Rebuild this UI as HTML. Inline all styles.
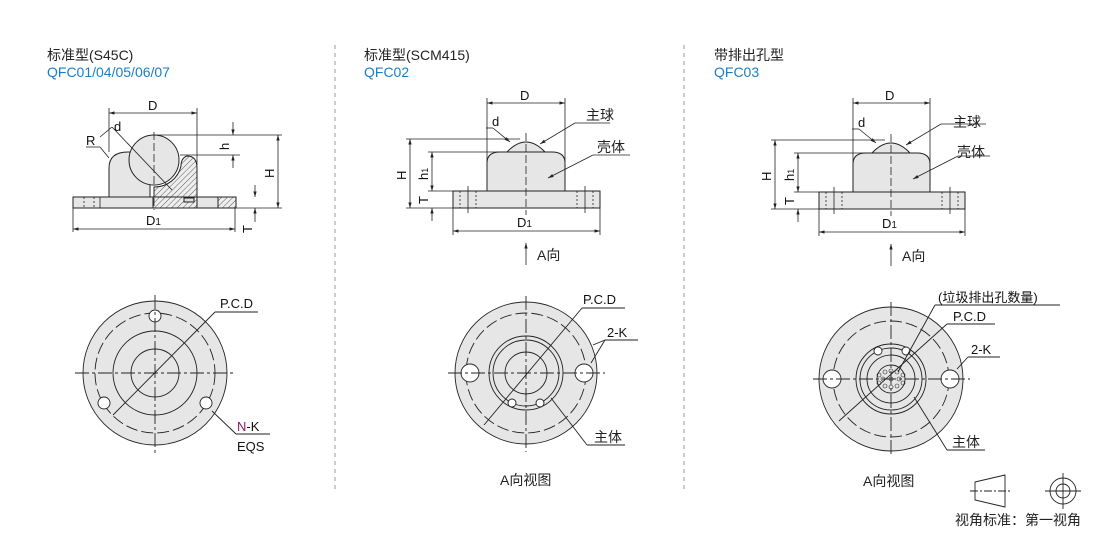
<!DOCTYPE html>
<html><head><meta charset="utf-8"><style>
body{margin:0;background:#fff;}
svg{display:block;font-family:"Liberation Sans","Noto Sans CJK SC",sans-serif;}
.t{font-size:14px;fill:#222;}
.b{font-size:14px;fill:#1a7fc4;}
.l{font-size:13px;fill:#111;}
</style></head><body>
<svg width="1110" height="537" viewBox="0 0 1110 537" xmlns="http://www.w3.org/2000/svg">
<defs>
<marker id="a" viewBox="0 0 10 10" refX="10" refY="5" markerWidth="7" markerHeight="7" orient="auto-start-reverse"><path d="M0,2 L10,5 L0,8z" fill="#222"/></marker>
<pattern id="h" width="4" height="4" patternUnits="userSpaceOnUse" patternTransform="rotate(45)"><rect width="4" height="4" fill="#eee"/><line x1="0" y1="0" x2="0" y2="4" stroke="#333" stroke-width="0.8"/></pattern>
</defs>
<g stroke="#999" stroke-dasharray="4,4" stroke-width="1"><line x1="335" y1="45" x2="335" y2="490"/><line x1="684" y1="45" x2="684" y2="490"/></g>

<text x="47" y="60" class="t">标准型(S45C)</text>
<text x="47" y="77" class="b">QFC01/04/05/06/07</text>
<text x="364" y="60" class="t">标准型(SCM415)</text>
<text x="364" y="77" class="b">QFC02</text>
<text x="714" y="60" class="t">带排出孔型</text>
<text x="714" y="77" class="b">QFC03</text>

<!-- Panel 1 side -->
<g stroke="#222" stroke-width="1" fill="#e6e6e6">
<rect x="73" y="197" width="163" height="11"/>
<path d="M109,197 V168 Q109,152 128,152 H150 V197z"/>
<circle cx="154" cy="160" r="25"/>
<path d="M154,197 H197 V168 Q197,156 187,156 Q181,158 181,166 A27,27 0 0 1 154,187z" fill="url(#h)"/>
<rect x="153" y="197" width="44" height="11" fill="url(#h)"/>
<rect x="218" y="197" width="18" height="11" fill="url(#h)"/>
<rect x="184" y="198" width="10" height="4" fill="#ddd"/>
</g>
<g stroke="#222" stroke-width="0.8" fill="none">
<line x1="84" y1="197" x2="84" y2="208" stroke-dasharray="2,2"/><line x1="94" y1="197" x2="94" y2="208" stroke-dasharray="2,2"/><line x1="100" y1="197" x2="100" y2="208"/>
<line x1="109" y1="113" x2="197" y2="113" marker-start="url(#a)" marker-end="url(#a)"/>
<line x1="109" y1="108" x2="109" y2="152"/><line x1="197" y1="108" x2="197" y2="165"/>
<line x1="155" y1="135" x2="282" y2="135"/><line x1="180" y1="155" x2="240" y2="155"/>
<line x1="233" y1="122" x2="233" y2="135" marker-end="url(#a)"/><line x1="233" y1="168" x2="233" y2="155" marker-end="url(#a)"/>
<line x1="278" y1="135" x2="278" y2="208" marker-start="url(#a)" marker-end="url(#a)"/>
<line x1="236" y1="208" x2="282" y2="208"/>
<line x1="255" y1="185" x2="255" y2="197" marker-end="url(#a)"/><line x1="255" y1="222" x2="255" y2="208" marker-end="url(#a)"/>
<line x1="73" y1="229" x2="235" y2="229" marker-start="url(#a)" marker-end="url(#a)"/>
<line x1="73" y1="208" x2="73" y2="232"/><line x1="235" y1="208" x2="235" y2="232"/>
<line x1="154" y1="132" x2="154" y2="210" stroke-dasharray="8,3"/>
<line x1="112" y1="127" x2="172" y2="190"/><line x1="100" y1="137" x2="112" y2="127"/>
<line x1="86" y1="147" x2="100" y2="147"/><line x1="100" y1="147" x2="109" y2="158"/>
</g>
<text x="148" y="110" class="l">D</text><text x="114" y="131" class="l">d</text><text x="86" y="145" class="l">R</text>
<text x="229" y="150" class="l" transform="rotate(-90 229 150)">h</text>
<text x="274" y="178" class="l" transform="rotate(-90 274 178)">H</text>
<text x="252" y="233" class="l" transform="rotate(-90 252 233)">T</text>
<text x="146" y="225" class="l">D<tspan font-size="10">1</tspan></text>

<!-- Panel 1 bottom -->
<g stroke="#222" stroke-width="0.9">
<circle cx="155" cy="373" r="72" fill="#e6e6e6"/>
<circle cx="155" cy="373" r="60" fill="none" stroke-dasharray="12,4"/>
<circle cx="155" cy="373" r="42" fill="none"/>
<circle cx="155" cy="373" r="24" fill="none"/>
<circle cx="155" cy="316" r="6" fill="#fff"/><circle cx="104" cy="403" r="6" fill="#fff"/><circle cx="206" cy="403" r="6" fill="#fff"/>
<line x1="75" y1="373" x2="235" y2="373" stroke-dasharray="14,3,3,3"/>
<line x1="155" y1="295" x2="155" y2="455" stroke-dasharray="14,3,3,3"/>
<line x1="113" y1="415" x2="215" y2="312" fill="none"/>
<line x1="215" y1="312" x2="258" y2="312"/>
<line x1="212" y1="411" x2="236" y2="434"/><line x1="236" y1="434" x2="270" y2="434"/>
</g>
<text x="220" y="308" class="l">P.C.D</text>
<text x="237" y="431" class="l"><tspan fill="#8a1a6a">N</tspan>-K</text>
<text x="237" y="451" class="l">EQS</text>

<!-- Panel 2 side -->
<g stroke="#222" stroke-width="1" fill="#e6e6e6">
<path d="M507,152 Q526,132 545,152z"/>
<path d="M487,191 V163 Q487,152 500,152 H552 Q565,152 565,163 V191z"/>
<rect x="453" y="191" width="147" height="17"/>
</g>
<g stroke="#222" stroke-width="0.8" fill="none">
<line x1="460" y1="191" x2="460" y2="208" stroke-dasharray="2,2"/><line x1="476" y1="191" x2="476" y2="208" stroke-dasharray="2,2"/><line x1="468" y1="186" x2="468" y2="213"/>
<line x1="577" y1="191" x2="577" y2="208" stroke-dasharray="2,2"/><line x1="593" y1="191" x2="593" y2="208" stroke-dasharray="2,2"/><line x1="585" y1="186" x2="585" y2="213"/>
<line x1="487" y1="103" x2="565" y2="103" marker-start="url(#a)" marker-end="url(#a)"/>
<line x1="487" y1="98" x2="487" y2="191"/><line x1="565" y1="98" x2="565" y2="191"/>
<line x1="406" y1="139" x2="520" y2="139"/><line x1="428" y1="152" x2="500" y2="152"/>
<line x1="406" y1="208" x2="453" y2="208"/><line x1="428" y1="191" x2="453" y2="191"/>
<line x1="410" y1="139" x2="410" y2="208" marker-start="url(#a)" marker-end="url(#a)"/>
<line x1="432" y1="152" x2="432" y2="191" marker-start="url(#a)" marker-end="url(#a)"/>
<line x1="432" y1="221" x2="432" y2="208" marker-end="url(#a)"/>
<line x1="453" y1="231" x2="600" y2="231" marker-start="url(#a)" marker-end="url(#a)"/>
<line x1="453" y1="208" x2="453" y2="235"/><line x1="600" y1="208" x2="600" y2="235"/>
<line x1="526" y1="133" x2="526" y2="215" stroke-dasharray="8,3"/>
<line x1="493" y1="128" x2="510" y2="142" marker-end="url(#a)"/><line x1="486" y1="128" x2="493" y2="128"/>
<line x1="575" y1="123" x2="540" y2="144" marker-end="url(#a)"/><line x1="575" y1="123" x2="610" y2="123"/>
<line x1="593" y1="155" x2="548" y2="178" marker-end="url(#a)"/><line x1="593" y1="155" x2="630" y2="155"/>
<line x1="526" y1="265" x2="526" y2="243" marker-end="url(#a)"/>
</g>
<text x="520" y="100" class="l">D</text><text x="492" y="126" class="l">d</text>
<text x="586" y="120" class="t">主球</text><text x="597" y="152" class="t">壳体</text>
<text x="406" y="180" class="l" transform="rotate(-90 406 180)">H</text>
<text x="428" y="180" class="l" transform="rotate(-90 428 180)">h<tspan font-size="9">1</tspan></text>
<text x="428" y="204" class="l" transform="rotate(-90 428 204)">T</text>
<text x="517" y="227" class="l">D<tspan font-size="10">1</tspan></text>
<text x="537" y="260" class="t">A向</text>

<!-- Panel 2 bottom -->
<g stroke="#222" stroke-width="0.9">
<circle cx="526" cy="373" r="71" fill="#e6e6e6"/>
<circle cx="526" cy="373" r="60" fill="none" stroke-dasharray="12,4"/>
<circle cx="526" cy="373" r="37" fill="none"/>
<circle cx="526" cy="373" r="33" fill="none"/>
<circle cx="526" cy="373" r="21" fill="none"/>
<circle cx="470" cy="373" r="9" fill="#fff"/><circle cx="584" cy="373" r="9" fill="#fff"/>
<circle cx="512" cy="403" r="4" fill="#fff"/><circle cx="540" cy="403" r="4" fill="#fff"/>
<line x1="448" y1="373" x2="605" y2="373" stroke-dasharray="14,3,3,3"/>
<line x1="526" y1="296" x2="526" y2="452" stroke-dasharray="14,3,3,3"/>
<line x1="484" y1="425" x2="582" y2="308"/><line x1="582" y1="308" x2="625" y2="308"/>
<line x1="593" y1="345" x2="605" y2="340"/><line x1="605" y1="340" x2="638" y2="340"/><line x1="605" y1="340" x2="591" y2="363"/>
<line x1="551" y1="398" x2="587" y2="445"/><line x1="587" y1="445" x2="625" y2="445"/>
</g>
<text x="583" y="304" class="l">P.C.D</text><text x="607" y="337" class="l">2-K</text>
<text x="594" y="442" class="t">主体</text>
<text x="500" y="485" class="t">A向视图</text>

<!-- Panel 3 side -->
<g stroke="#222" stroke-width="1" fill="#e6e6e6">
<path d="M872,153 Q891,133 910,153z"/>
<path d="M853,192 V164 Q853,153 866,153 H917 Q930,153 930,164 V192z"/>
<rect x="819" y="192" width="146" height="17"/>
</g>
<g stroke="#222" stroke-width="0.8" fill="none">
<line x1="826" y1="192" x2="826" y2="209" stroke-dasharray="2,2"/><line x1="842" y1="192" x2="842" y2="209" stroke-dasharray="2,2"/><line x1="834" y1="187" x2="834" y2="214"/>
<line x1="942" y1="192" x2="942" y2="209" stroke-dasharray="2,2"/><line x1="958" y1="192" x2="958" y2="209" stroke-dasharray="2,2"/><line x1="950" y1="187" x2="950" y2="214"/>
<line x1="853" y1="103" x2="930" y2="103" marker-start="url(#a)" marker-end="url(#a)"/>
<line x1="853" y1="98" x2="853" y2="192"/><line x1="930" y1="98" x2="930" y2="192"/>
<line x1="771" y1="140" x2="885" y2="140"/><line x1="794" y1="153" x2="866" y2="153"/>
<line x1="771" y1="209" x2="819" y2="209"/><line x1="794" y1="192" x2="819" y2="192"/>
<line x1="775" y1="140" x2="775" y2="209" marker-start="url(#a)" marker-end="url(#a)"/>
<line x1="798" y1="153" x2="798" y2="192" marker-start="url(#a)" marker-end="url(#a)"/>
<line x1="798" y1="222" x2="798" y2="209" marker-end="url(#a)"/>
<line x1="819" y1="232" x2="965" y2="232" marker-start="url(#a)" marker-end="url(#a)"/>
<line x1="819" y1="209" x2="819" y2="236"/><line x1="965" y1="209" x2="965" y2="236"/>
<line x1="891" y1="134" x2="891" y2="216" stroke-dasharray="8,3"/>
<line x1="859" y1="129" x2="876" y2="143" marker-end="url(#a)"/><line x1="852" y1="129" x2="859" y2="129"/>
<line x1="941" y1="124" x2="906" y2="145" marker-end="url(#a)"/><line x1="941" y1="124" x2="986" y2="124"/>
<line x1="958" y1="156" x2="913" y2="179" marker-end="url(#a)"/><line x1="958" y1="156" x2="990" y2="156"/>
<line x1="891" y1="266" x2="891" y2="244" marker-end="url(#a)"/>
</g>
<text x="885" y="100" class="l">D</text><text x="858" y="127" class="l">d</text>
<text x="953" y="127" class="t">主球</text><text x="957" y="157" class="t">壳体</text>
<text x="771" y="181" class="l" transform="rotate(-90 771 181)">H</text>
<text x="794" y="181" class="l" transform="rotate(-90 794 181)">h<tspan font-size="9">1</tspan></text>
<text x="794" y="205" class="l" transform="rotate(-90 794 205)">T</text>
<text x="882" y="228" class="l">D<tspan font-size="10">1</tspan></text>
<text x="902" y="261" class="t">A向</text>

<!-- Panel 3 bottom -->
<g stroke="#222" stroke-width="0.9">
<circle cx="891" cy="379" r="72" fill="#e6e6e6"/>
<circle cx="891" cy="379" r="58" fill="none" stroke-dasharray="12,4"/>
<circle cx="891" cy="379" r="35" fill="none"/>
<circle cx="891" cy="379" r="31" fill="none"/>
<circle cx="891" cy="379" r="24" fill="none"/>
<circle cx="891" cy="379" r="14" fill="#e6e6e6"/>
<circle cx="832" cy="379" r="9" fill="#fff"/><circle cx="950" cy="379" r="9" fill="#fff"/>
<circle cx="878" cy="351" r="4" fill="#fff"/><circle cx="906" cy="351" r="4" fill="#fff"/>
<g fill="none" stroke-width="0.6">
<circle cx="891" cy="379" r="2"/><circle cx="899" cy="379" r="2"/><circle cx="883" cy="379" r="2"/><circle cx="891" cy="371" r="2"/><circle cx="891" cy="387" r="2"/>
<circle cx="897" cy="372" r="2"/><circle cx="885" cy="372" r="2"/><circle cx="897" cy="386" r="2"/><circle cx="885" cy="386" r="2"/>
<circle cx="903" cy="375" r="2"/><circle cx="879" cy="375" r="2"/><circle cx="903" cy="383" r="2"/><circle cx="879" cy="383" r="2"/>
</g>
<line x1="813" y1="379" x2="970" y2="379" stroke-dasharray="14,3,3,3"/>
<line x1="891" y1="302" x2="891" y2="455" stroke-dasharray="14,3,3,3"/>
<line x1="839" y1="421" x2="947" y2="324"/><line x1="947" y1="324" x2="995" y2="324"/>
<line x1="935" y1="305" x2="898" y2="372"/><line x1="935" y1="305" x2="1060" y2="305"/>
<line x1="957" y1="369" x2="968" y2="357"/><line x1="968" y1="357" x2="1000" y2="357"/>
<line x1="914" y1="397" x2="947" y2="450"/><line x1="947" y1="450" x2="985" y2="450"/>
</g>
<text x="938" y="302" class="l">(垃圾排出孔数量)</text>
<text x="953" y="321" class="l">P.C.D</text><text x="971" y="354" class="l">2-K</text>
<text x="952" y="447" class="t">主体</text>
<text x="863" y="486" class="t">A向视图</text>

<!-- view symbol -->
<g stroke="#222" stroke-width="0.9" fill="none">
<path d="M975,482 L1005,475 V507 L975,500z"/>
<line x1="970" y1="491" x2="1012" y2="491" stroke-dasharray="8,2,2,2"/>
<circle cx="1063" cy="491" r="13"/><circle cx="1063" cy="491" r="7"/>
<line x1="1045" y1="491" x2="1081" y2="491"/><line x1="1063" y1="473" x2="1063" y2="509"/>
</g>
<text x="955" y="525" class="t">视角标准：第一视角</text>
</svg>
</body></html>
